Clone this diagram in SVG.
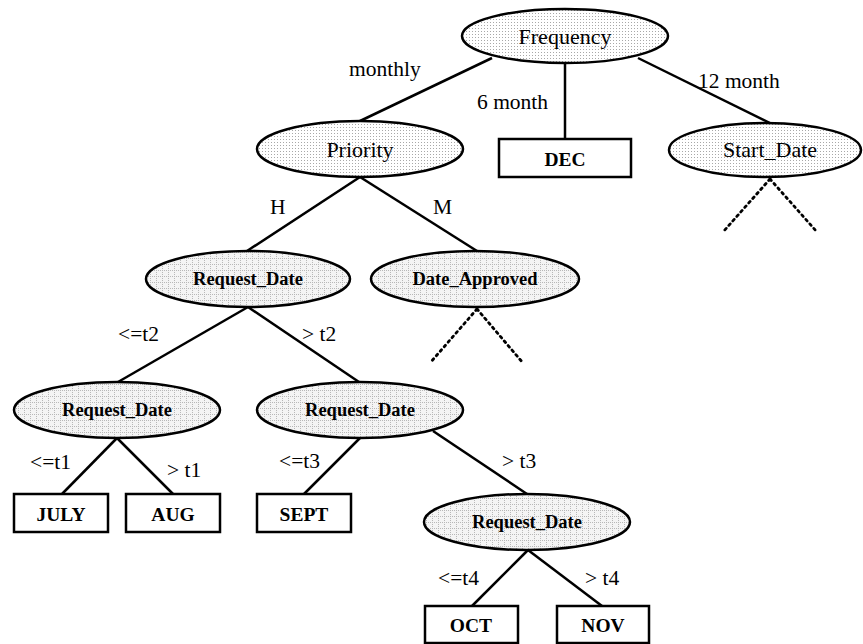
<svg xmlns="http://www.w3.org/2000/svg" width="863" height="644" viewBox="0 0 863 644">
<defs>
<pattern id="dots" width="3" height="3" patternUnits="userSpaceOnUse">
<rect width="3" height="3" fill="#ffffff"/>
<rect x="1" y="1" width="1" height="1" fill="#a8a8a8"/>
</pattern>
<pattern id="grid" width="6" height="6" patternUnits="userSpaceOnUse">
<rect width="6" height="6" fill="#f4f4f4"/>
<path d="M0 0.5H6M0.5 0V6" stroke="#b8b8b8" stroke-width="1" stroke-dasharray="1 1" fill="none"/>
</pattern>
</defs>
<style>
.e1{fill:url(#dots);stroke:#000;stroke-width:2.5}
.e2{fill:url(#grid);stroke:#000;stroke-width:2.5}
.r{fill:#fff;stroke:#000;stroke-width:2.5}
.ln{stroke:#000;stroke-width:2.5;fill:none}
.dt{stroke:#000;stroke-width:2.8;fill:none;stroke-dasharray:2 4;stroke-linecap:round}
text{font-family:'Liberation Serif',Tinos,'Times New Roman','DejaVu Serif',serif}
.t1{font-size:22px;text-anchor:middle;fill:#000}
.t2{font-size:18.5px;font-weight:bold;text-anchor:middle;fill:#000}
.t3{font-size:19.5px;font-weight:bold;text-anchor:middle;fill:#000}
.lb{font-size:21.5px;fill:#000}
</style>
<rect width="863" height="644" fill="#fff"/>
<g id="connectors">
<line class="ln" x1="492" y1="58" x2="360" y2="121"/>
<line class="ln" x1="565" y1="63" x2="565" y2="139"/>
<line class="ln" x1="638" y1="58" x2="770" y2="123"/>
<line class="ln" x1="360" y1="177" x2="247" y2="251"/>
<line class="ln" x1="360" y1="177" x2="477" y2="251"/>
<line class="dt" x1="477" y1="309" x2="430" y2="363"/>
<line class="dt" x1="477" y1="309" x2="523" y2="363"/>
<line class="dt" x1="770" y1="179" x2="723" y2="232"/>
<line class="dt" x1="770" y1="179" x2="817" y2="232"/>
<line class="ln" x1="248" y1="307" x2="118" y2="382"/>
<line class="ln" x1="248" y1="307" x2="359" y2="382"/>
<line class="ln" x1="117" y1="438" x2="62" y2="494"/>
<line class="ln" x1="117" y1="438" x2="173" y2="494"/>
<line class="ln" x1="360" y1="438" x2="304" y2="494"/>
<line class="ln" x1="433" y1="431" x2="527" y2="494"/>
<line class="ln" x1="528" y1="550" x2="472" y2="606"/>
<line class="ln" x1="528" y1="550" x2="602" y2="606"/>
<text class="lb" x="349" y="76">monthly</text>
<text class="lb" x="477" y="109">6 month</text>
<text class="lb" x="698" y="88">12 month</text>
<text class="lb" x="270" y="214">H</text>
<text class="lb" x="433" y="214">M</text>
<text class="lb" x="118" y="341">&lt;=t2</text>
<text class="lb" x="302" y="341">&gt; t2</text>
<text class="lb" x="30" y="469">&lt;=t1</text>
<text class="lb" x="167" y="477">&gt; t1</text>
<text class="lb" x="279" y="468">&lt;=t3</text>
<text class="lb" x="502" y="468">&gt; t3</text>
<text class="lb" x="438" y="585">&lt;=t4</text>
<text class="lb" x="585" y="585">&gt; t4</text>
</g>
<g id="frequency"><ellipse class="e1" cx="565" cy="36" rx="103" ry="27"/><text class="t1" x="565" y="44">Frequency</text></g>
<g id="priority"><ellipse class="e1" cx="360" cy="149" rx="103" ry="28"/><text class="t1" x="360" y="157">Priority</text></g>
<g id="dec"><rect class="r" x="499" y="139" width="132" height="38"/><text class="t3" x="565" y="166">DEC</text></g>
<g id="start_date"><ellipse class="e1" cx="765" cy="150" rx="96" ry="27"/><text class="t1" x="770" y="157">Start_Date</text></g>
<g id="request_date_1"><ellipse class="e2" cx="248" cy="279" rx="102" ry="28"/><text class="t2" x="248" y="285">Request_Date</text></g>
<g id="date_approved"><ellipse class="e2" cx="475" cy="279" rx="104" ry="28"/><text class="t2" x="475" y="285">Date_Approved</text></g>
<g id="request_date_2"><ellipse class="e2" cx="117" cy="410" rx="103" ry="28"/><text class="t2" x="117" y="416">Request_Date</text></g>
<g id="request_date_3"><ellipse class="e2" cx="360" cy="410" rx="103" ry="28"/><text class="t2" x="360" y="416">Request_Date</text></g>
<g id="july"><rect class="r" x="14" y="494" width="94" height="38"/><text class="t3" x="61" y="521">JULY</text></g>
<g id="aug"><rect class="r" x="126" y="494" width="94" height="38"/><text class="t3" x="173" y="521">AUG</text></g>
<g id="sept"><rect class="r" x="257" y="494" width="94" height="38"/><text class="t3" x="304" y="521">SEPT</text></g>
<g id="request_date_4"><ellipse class="e2" cx="527" cy="522" rx="103" ry="28"/><text class="t2" x="527" y="528">Request_Date</text></g>
<g id="oct"><rect class="r" x="425" y="606" width="93" height="37"/><text class="t3" x="471" y="632">OCT</text></g>
<g id="nov"><rect class="r" x="557" y="606" width="92" height="37"/><text class="t3" x="603" y="632">NOV</text></g>
</svg>
